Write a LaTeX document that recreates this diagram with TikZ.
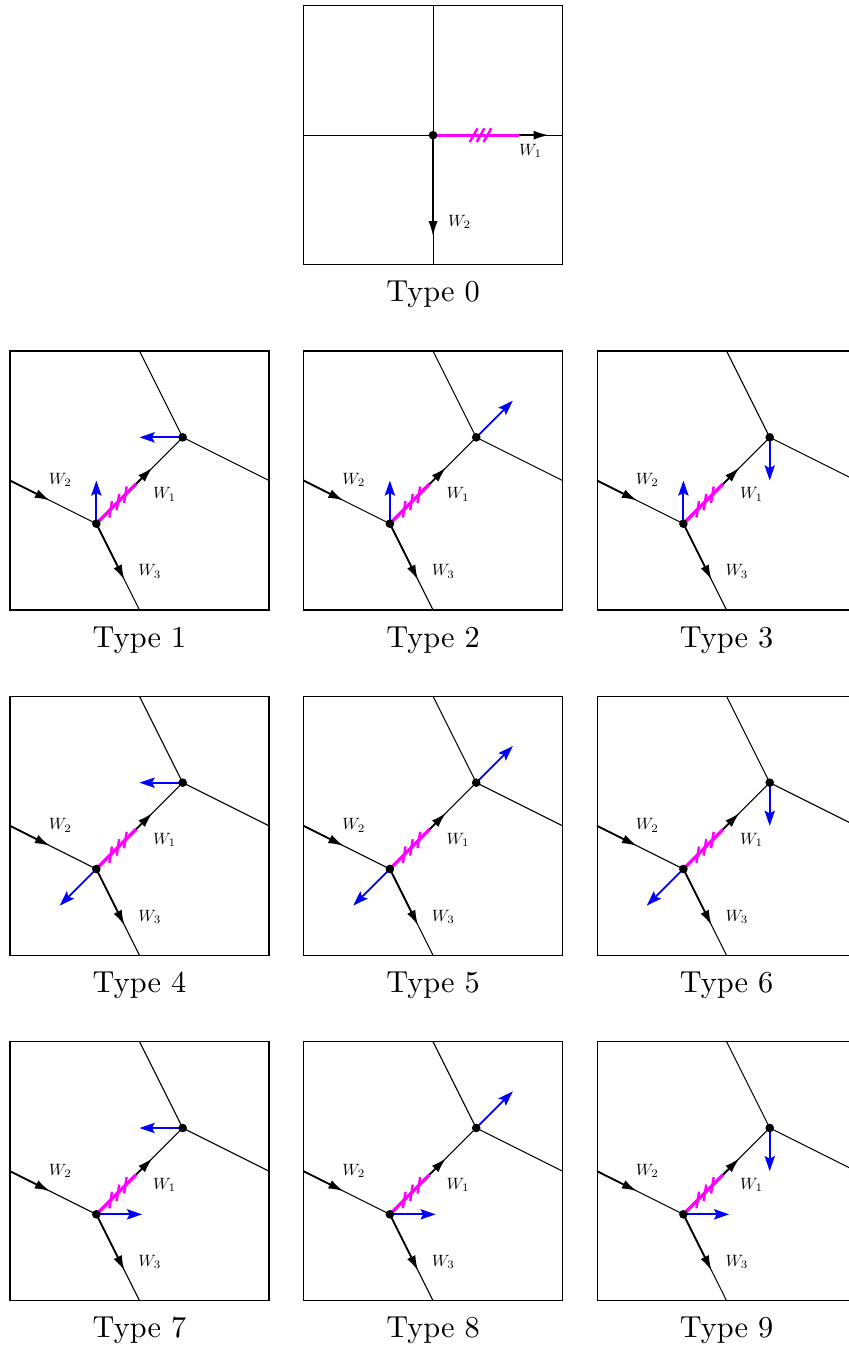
\documentclass[tikz,border=0pt]{standalone}
\usetikzlibrary{arrows.meta}
\definecolor{mag}{RGB}{255,0,255}
\definecolor{blu}{RGB}{0,0,255}
\begin{document}
\begin{tikzpicture}[
  cell/.style={line width=0.35pt},
  vline/.style={line width=0.35pt},
  warrow/.style={line width=0.6pt,-{Latex[length=5pt,width=3pt]}},
  magline/.style={mag,line width=1.1pt},
  magtick/.style={mag,line width=0.8pt},
  bluearrow/.style={blu,line width=0.6pt,-{Stealth[length=5pt,width=3.4pt,inset=0.9pt]}},
  wlabel/.style={font=\normalsize,scale=0.54,inner sep=0pt},
  capt/.style={anchor=base,inner sep=0pt}
]
\useasboundingbox (0,0) rectangle (9.834,-15.626);
\clip (0,0) rectangle (9.834,-15.626);

% ---------- Type 0 ----------
\begin{scope}[shift={(3.516,-3.066)}]
  \draw[cell] (0,0) rectangle (3,3);
  \coordinate (c0) at (1.5,1.5);
  \coordinate (t0) at (1.5,3);
  \coordinate (b0) at (1.5,0);
  \coordinate (l0) at (0,1.5);
  \coordinate (r0) at (3,1.5);
  \coordinate (w10) at (2.84,1.5);
  \coordinate (w20) at (1.5,0.328);
  \coordinate (m0) at (2.5,1.5);
  \draw[vline] (t0) -- (b0);
  \draw[vline] (l0) -- (r0);
  \draw[warrow] (c0) -- (w10);
  \draw[warrow] (c0) -- (w20);
  \draw[magline] (c0) -- (m0);
  \foreach \t in {1.97,2.05,2.13}
    \draw[magtick] (\t-0.045,1.5-0.08) -- (\t+0.045,1.5+0.08);
  \fill (c0) circle (0.05);
  \node[wlabel] (lw10) at (2.63,1.315) {$W_1$};
  \node[wlabel] (lw20) at (1.807,0.498) {$W_2$};
  \node[capt] (cap0) at (1.5,-0.43) {Type 0};
\end{scope}

% ---------- Types 1-9 ----------
\foreach \n/\c/\r/\la/\ll/\ua/\ul in {
  1/0/1/90/0.5/180/0.5,
  2/1/1/90/0.5/45/0.6,
  3/2/1/90/0.5/-90/0.5,
  4/0/2/-135/0.6/180/0.5,
  5/1/2/-135/0.6/45/0.6,
  6/2/2/-135/0.6/-90/0.5,
  7/0/3/0/0.53/180/0.5,
  8/1/3/0/0.53/45/0.6,
  9/2/3/0/0.53/-90/0.5}{
\begin{scope}[shift={(0.116+3.4*\c,-3.066-4*\r)}]
  \draw[cell] (0,0) rectangle (3,3);
  \coordinate (lo\n) at (1,1);
  \coordinate (up\n) at (2,2);
  \coordinate (L\n) at (0,1.5);
  \coordinate (B\n) at (1.5,0);
  \coordinate (T\n) at (1.5,3);
  \coordinate (R\n) at (3,1.5);
  \coordinate (wa\n) at (1.65,1.65);
  \coordinate (wb\n) at (0.463,1.268);
  \coordinate (wc\n) at (1.3265,0.347);
  \coordinate (m\n) at (1.46,1.46);
  \draw[vline] (L\n) -- (lo\n) -- (B\n);
  \draw[vline] (lo\n) -- (up\n);
  \draw[vline] (T\n) -- (up\n) -- (R\n);
  \draw[warrow] (lo\n) -- (wa\n);
  \draw[warrow] (L\n) -- (wb\n);
  \draw[warrow] (lo\n) -- (wc\n);
  \draw[magline] (lo\n) -- (m\n);
  \foreach \t in {0.166,0.25,0.336}
    \draw[magtick] (1+\t-0.015,1+\t-0.095) -- (1+\t+0.015,1+\t+0.095);
  \draw[bluearrow] (lo\n) -- ++(\la:\ll);
  \draw[bluearrow] (up\n) -- ++(\ua:\ul);
  \fill (lo\n) circle (0.05);
  \fill (up\n) circle (0.05);
  \node[wlabel] (lwa\n) at (1.79,1.34) {$W_1$};
  \node[wlabel] (lwb\n) at (0.583,1.506) {$W_2$};
  \node[wlabel] (lwc\n) at (1.62,0.446) {$W_3$};
  \node[capt] (cap\n) at (1.5,-0.43) {Type \n};
\end{scope}
}
\end{tikzpicture}
\end{document}
